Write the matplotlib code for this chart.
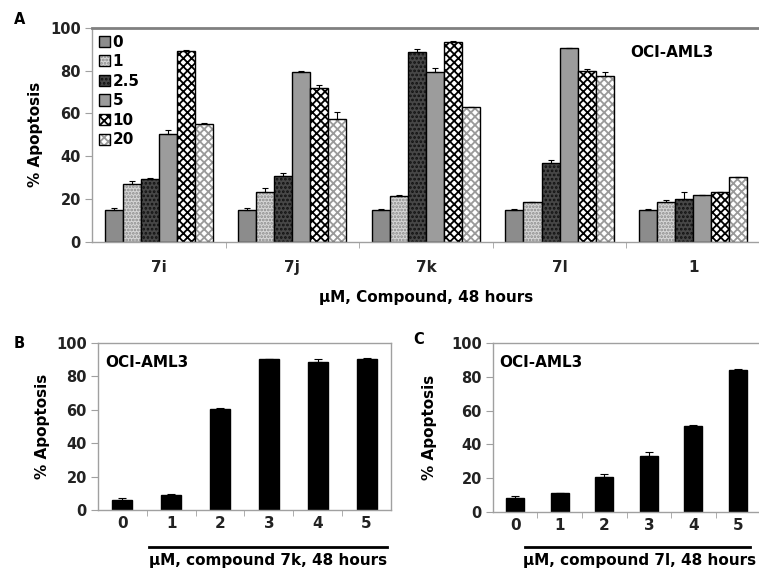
import numpy as np
import matplotlib.pyplot as plt

plt.rcParams['font.family'] = ['DejaVu Sans']
plt.rcParams['font.weight'] = 'bold'
plt.rcParams['axes.labelweight'] = 'bold'
plt.rcParams['hatch.linewidth'] = 1.3

### Data
compounds = ['7i', '7j', '7k', '7l', '1']
doses = ['0', '1', '2.5', '5', '10', '20']

# rows = compound, columns = dose (uM)
apoptosis_a = np.array([
    [15.0, 27.0, 29.5, 50.4, 89.0, 55.0],
    [15.0, 23.5, 30.6, 79.3, 71.8, 57.4],
    [15.0, 21.6, 88.6, 79.3, 93.3, 63.0],
    [15.0, 18.5, 36.9, 90.5, 80.0, 77.6],
    [15.0, 18.8, 20.2, 21.8, 23.2, 30.3],
])
errors_a = np.array([
    [0.8, 1.5, 0.3, 2.0, 0.5, 0.5],
    [0.8, 1.5, 1.5, 0.5, 1.5, 3.5],
    [0.5, 0.2, 1.5, 2.0, 0.3, 0.2],
    [0.5, 0.2, 1.3, 0.2, 0.8, 1.5],
    [0.5, 1.0, 3.0, 0.3, 0.2, 0.2],
])

conc_labels = ['0', '1', '2', '3', '4', '5']
apoptosis_b = [5.8, 9.0, 60.6, 90.4, 88.8, 90.2]
errors_b = [1.2, 0.8, 0.6, 0.3, 1.8, 0.6]
apoptosis_c = [8.3, 11.0, 20.7, 33.0, 51.0, 84.2]
errors_c = [1.0, 0.3, 1.5, 2.5, 0.5, 0.5]

# bar fill styles for each dose: face colour, hatch, hatch colour
dose_styles = [
    ('#8c8c8c', None, None),
    ('#d6d6d6', '.....', '#8a8a8a'),
    ('#474747', '....', '#111111'),
    ('#9c9c9c', None, None),
    ('white', 'xxxx', 'black'),
    ('white', 'xxxx', '#9a9a9a'),
]

spine_col = '#a0a0a0'
text_col = '#222222'


def style_axes(ax, right=True):
    for side in ['left', 'bottom', 'top', 'right']:
        ax.spines[side].set_color(spine_col)
        ax.spines[side].set_linewidth(1.0)
    ax.spines['right'].set_visible(right)
    ax.set_ylim(0, 100)
    ax.set_yticks([0, 20, 40, 60, 80, 100])
    ax.tick_params(axis='y', direction='out', length=5, color=spine_col,
                   labelsize=10.5, labelcolor=text_col, pad=3)
    ax.tick_params(axis='x', which='major', length=0, labelcolor=text_col)
    ax.tick_params(axis='x', which='minor', direction='out', length=4, color=spine_col)


fig = plt.figure(figsize=(7.59, 5.70), dpi=100)

### Panel A - grouped bars
axA = fig.add_axes([0.1212, 0.5754, 0.8800, 0.3760])
style_axes(axA, right=False)
axA.spines['top'].set_color('#808080')
axA.spines['top'].set_linewidth(2.0)

x = np.arange(len(compounds))
w = 0.135
handles = []
for j, dose in enumerate(doses):
    fc, hatch, hc = dose_styles[j]
    pos = x + (j - 2.5) * w
    vals = apoptosis_a[:, j]
    b1 = axA.bar(pos, vals, w, color=fc, hatch=hatch,
                 edgecolor=hc if hc else fc, linewidth=0)
    b2 = axA.bar(pos, vals, w, fill=False, edgecolor='black', linewidth=1.0)
    axA.errorbar(pos, vals, yerr=[np.zeros(len(vals)), errors_a[:, j]], fmt='none',
                 ecolor='black', elinewidth=0.8, capsize=2.5, capthick=0.8)
    handles.append((b1[0], b2[0]))

axA.set_xlim(-0.5, 4.5)
axA.set_xticks(x)
axA.set_xticklabels(compounds, fontsize=11)
axA.set_xticks(x[:-1] + 0.5, minor=True)
axA.tick_params(axis='x', which='major', pad=13)
axA.set_ylabel('% Apoptosis', fontsize=11)
axA.yaxis.set_label_coords(-0.073, 0.5)
axA.set_xlabel('µM, Compound, 48 hours', fontsize=11)
axA.xaxis.set_label_coords(0.5, -0.222)
axA.legend(handles, doses, loc='upper left', frameon=False, fontsize=11,
           handlelength=0.75, handleheight=0.75, handletextpad=0.15,
           labelspacing=0.3, borderaxespad=0.2, borderpad=0.25)
axA.text(0.868, 0.886, 'OCI-AML3', transform=axA.transAxes, ha='center',
         va='center', fontsize=11)


### Panels B and C - single series
def single_panel(rect, values, errs, label, line_x, line_y, lab_xy):
    ax = fig.add_axes(rect)
    style_axes(ax)
    xs = np.arange(len(conc_labels))
    ax.bar(xs, values, 0.41, color='black', edgecolor='black', linewidth=1)
    ax.errorbar(xs, values, yerr=[np.zeros(len(values)), errs], fmt='none',
                ecolor='black', elinewidth=0.8, capsize=3, capthick=0.8)
    ax.set_xlim(-0.5, len(conc_labels) - 0.5)
    ax.set_xticks(xs)
    ax.set_xticklabels(conc_labels, fontsize=11)
    ax.set_xticks(xs[:-1] + 0.5, minor=True)
    ax.tick_params(axis='x', which='major', pad=4)
    ax.set_ylabel('% Apoptosis', fontsize=11)
    ax.text(0.024, 0.886, 'OCI-AML3', transform=ax.transAxes, ha='left',
            va='center', fontsize=11)
    ax.plot(line_x, [line_y, line_y], color='black', linewidth=2,
            transform=ax.transAxes, clip_on=False)
    ax.set_xlabel(label, fontsize=11)
    ax.xaxis.set_label_coords(*lab_xy)
    return ax


axB = single_panel([0.1291, 0.1053, 0.3860, 0.2930], apoptosis_b, errors_b,
                   'µM, compound 7k, 48 hours', [0.174, 0.986], -0.22, (0.58, -0.255))
axB.yaxis.set_label_coords(-0.164, 0.5)

axC = single_panel([0.6495, 0.1018, 0.3520, 0.2965], apoptosis_c, errors_c,
                   'µM, compound 7l, 48 hours', [0.12, 0.963], -0.207, (0.55, -0.24))
axC.spines['right'].set_visible(False)
axC.yaxis.set_label_coords(-0.21, 0.5)

# panel letters
fig.text(0.026, 0.965, 'A', fontsize=10.5, ha='center', va='center')
fig.text(0.025, 0.398, 'B', fontsize=10.5, ha='center', va='center')
fig.text(0.552, 0.405, 'C', fontsize=10.5, ha='center', va='center')

fig.savefig('out.png', dpi=100)
